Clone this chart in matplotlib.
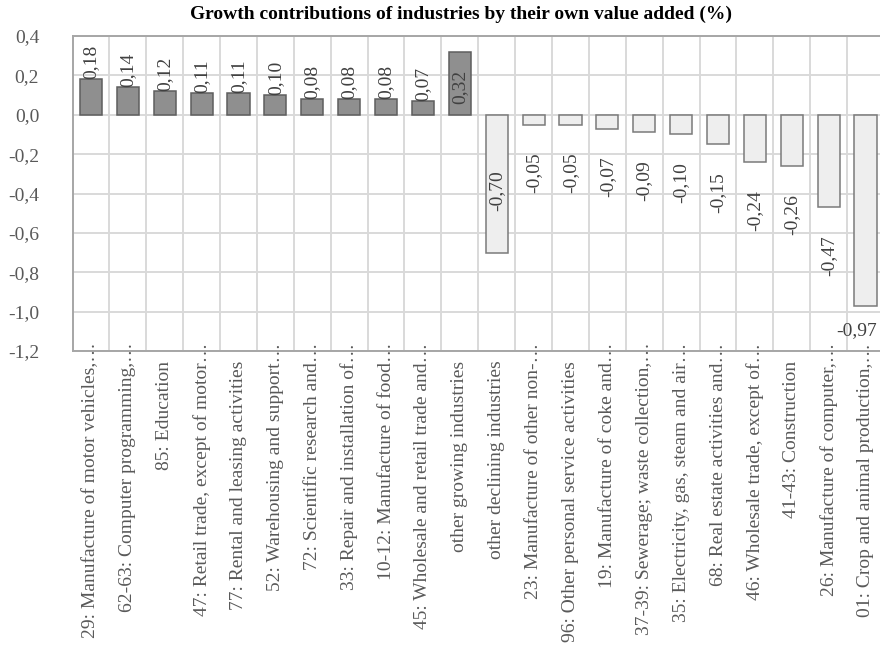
import matplotlib
matplotlib.use("Agg")
import matplotlib.pyplot as plt
from matplotlib.ticker import FixedLocator, FuncFormatter
from matplotlib.transforms import offset_copy, blended_transform_factory

plt.rcParams["font.family"] = ["Liberation Serif", "DejaVu Serif"]

title = "Growth contributions of industries by their own value added (%)"

categories = [
    "29: Manufacture of motor vehicles,\u2026",
    "62-63: Computer programming,\u2026",
    "85: Education",
    "47: Retail trade, except of motor\u2026",
    "77: Rental and leasing activities",
    "52: Warehousing and support\u2026",
    "72: Scientific research and\u2026",
    "33: Repair and installation of\u2026",
    "10-12: Manufacture of food\u2026",
    "45: Wholesale and retail trade and\u2026",
    "other growing industries",
    "other declining industries",
    "23: Manufacture of other non-\u2026",
    "96: Other personal service activities",
    "19: Manufacture of coke and\u2026",
    "37-39: Sewerage; waste collection,\u2026",
    "35: Electricity, gas, steam and air\u2026",
    "68: Real estate activities and\u2026",
    "46: Wholesale trade, except of\u2026",
    "41-43: Construction",
    "26: Manufacture of computer,\u2026",
    "01: Crop and animal production,\u2026",
]

values = [0.18, 0.14, 0.12, 0.11, 0.11, 0.10, 0.08, 0.08, 0.08, 0.07, 0.32,
          -0.70, -0.05, -0.05, -0.07, -0.09, -0.10, -0.15, -0.24, -0.26, -0.47, -0.97]

y_ticks = [0.4, 0.2, 0.0, -0.2, -0.4, -0.6, -0.8, -1.0, -1.2]

GROW_FILL, GROW_EDGE = "#8f8f8f", "#5e5e5e"
DECL_FILL, DECL_EDGE = "#eeeeee", "#7a7a7a"
GRID = "#d9d9d9"
FRAME = "#a6a6a6"
TEXT = "#595959"
LABEL = "#404040"
FS = 14


def comma(v, _pos=None):
    s = f"{v:.1f}".replace(".", ",")
    if s.startswith("-0,0"):
        s = "0,0"
    return s


fig = plt.figure(figsize=(8.8, 6.47), dpi=100)
W, H = 880, 647
ax = fig.add_axes([72.5 / W, 1 - 351 / H, (884 - 72.5) / W, (351 - 36) / H])

x = list(range(len(values)))
fills = [GROW_FILL if v > 0 else DECL_FILL for v in values]
edges = [GROW_EDGE if v > 0 else DECL_EDGE for v in values]
ax.bar(x, values, width=0.6, color=fills, edgecolor=edges, linewidth=1.1, zorder=3)

ax.set_xlim(-0.5, len(values) - 0.5)
ax.set_ylim(-1.2, 0.4)

ax.yaxis.set_major_locator(FixedLocator(y_ticks))
ax.yaxis.set_major_formatter(FuncFormatter(comma))
ax.set_xticks(x)
ax.set_xticklabels([])
ax.set_xticks([i + 0.5 for i in range(len(values) - 1)], minor=True)
ax.tick_params(axis="both", which="both", length=0)
ax.tick_params(axis="y", labelsize=FS, labelcolor=TEXT, pad=24)

ax.grid(axis="y", which="major", color=GRID, linewidth=1.4, zorder=0)
ax.grid(axis="x", which="minor", color=GRID, linewidth=1.4, zorder=0)
ax.grid(axis="x", which="major", visible=False)

for side in ["left", "bottom", "top"]:
    ax.spines[side].set_color(FRAME)
    ax.spines[side].set_linewidth(1.4)
ax.spines["right"].set_visible(False)

# category labels: truncated names start right at the axis line
base = blended_transform_factory(ax.transData, ax.transAxes)
for i, name in enumerate(categories):
    dy = 6 if name.endswith("\u2026") else -7
    tr = offset_copy(base, fig=fig, x=0, y=dy, units="points")
    ax.text(i, 0, name, transform=tr, rotation=90, ha="center", va="top",
            fontsize=FS, color=TEXT, clip_on=False, zorder=5)

# value labels
for i, v in enumerate(values):
    txt = f"{v:.2f}".replace(".", ",")
    if i == len(values) - 1:
        tr = offset_copy(ax.transData, fig=fig, x=0, y=-12, units="points")
        ax.text(i + 0.3, v, txt, transform=tr, ha="right", va="top",
                fontsize=FS, color=LABEL, zorder=4)
    elif v >= 0.3:
        tr = offset_copy(ax.transData, fig=fig, x=0, y=-13, units="points")
        ax.text(i, v, txt, transform=tr, rotation=90, ha="center", va="top",
                fontsize=FS, color=LABEL, zorder=4)
    elif v > 0:
        ax.text(i, v, txt, rotation=90, ha="center", va="bottom",
                fontsize=FS, color=LABEL, zorder=4)
    elif v <= -0.6:
        ax.text(i, v * 0.55, txt, rotation=90, ha="center", va="center",
                fontsize=FS, color=LABEL, zorder=4)
    else:
        tr = offset_copy(ax.transData, fig=fig, x=0, y=-20, units="points")
        ax.text(i, v, txt, transform=tr, rotation=90, ha="center", va="top",
                fontsize=FS, color=LABEL, zorder=4)

fig.text(0.5 * (187 + 735) / W, 1 - 14 / H, title, ha="center", va="center",
         fontsize=14, fontweight="bold", color="black")

fig.savefig("out.png", dpi=100)
